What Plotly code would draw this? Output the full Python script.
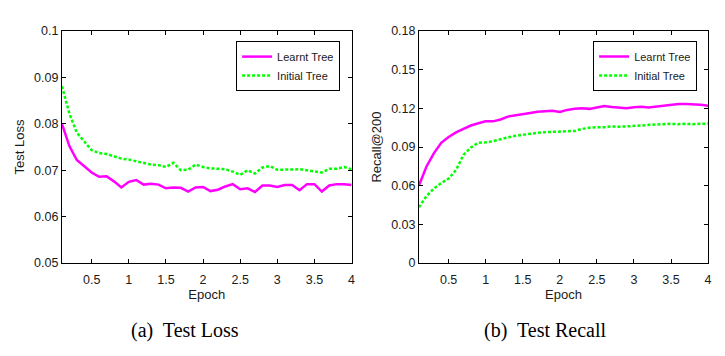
import plotly.graph_objects as go

epochs = [round(0.1 * i, 1) for i in range(1, 41)]

loss_learnt = [0.0800, 0.0752, 0.0722, 0.0708, 0.0695, 0.0686, 0.0687, 0.0676, 0.0663, 0.0675,
               0.0679, 0.0669, 0.0671, 0.0669, 0.0661, 0.0663, 0.0662, 0.0654, 0.0663, 0.0664,
               0.0655, 0.0658, 0.0665, 0.0670, 0.0659, 0.0661, 0.0653, 0.0667, 0.0667, 0.0664,
               0.0668, 0.0668, 0.0657, 0.0670, 0.0670, 0.0654, 0.0667, 0.0670, 0.0670, 0.0668]
loss_initial = [0.0881, 0.0822, 0.0781, 0.0762, 0.0743, 0.0737, 0.0735, 0.0730, 0.0725, 0.0723,
                0.0719, 0.0715, 0.0712, 0.0711, 0.0707, 0.0716, 0.0700, 0.0701, 0.0712, 0.0707,
                0.0704, 0.0703, 0.0702, 0.0697, 0.0690, 0.0700, 0.0693, 0.0706, 0.0709, 0.0701,
                0.0701, 0.0702, 0.0702, 0.0700, 0.0697, 0.0695, 0.0703, 0.0703, 0.0707, 0.0702]

recall_learnt = [0.0601, 0.0747, 0.0851, 0.0933, 0.0978, 0.1013, 0.1040, 0.1067, 0.1084, 0.1099,
                 0.1099, 0.1114, 0.1136, 0.1144, 0.1151, 0.1164, 0.1173, 0.1176, 0.1181, 0.1172,
                 0.1188, 0.1196, 0.1201, 0.1196, 0.1206, 0.1218, 0.1211, 0.1206, 0.1201, 0.1208,
                 0.1213, 0.1206, 0.1213, 0.1221, 0.1228, 0.1233, 0.1233, 0.1233, 0.1228, 0.1221]
recall_initial = [0.0432, 0.0519, 0.0578, 0.0621, 0.0655, 0.0722, 0.0839, 0.0896, 0.0933, 0.0936,
                  0.0945, 0.0963, 0.0975, 0.0987, 0.0995, 0.1005, 0.1010, 0.1015, 0.1017, 0.1023,
                  0.1022, 0.1025, 0.1040, 0.1050, 0.1054, 0.1054, 0.1060, 0.1057, 0.1060, 0.1062,
                  0.1067, 0.1072, 0.1072, 0.1077, 0.1080, 0.1077, 0.1080, 0.1077, 0.1080, 0.1082]

series_names = ["Learnt Tree", "Initial Tree"]
x_ticks = [0.5, 1, 1.5, 2, 2.5, 3, 3.5, 4]
x_ticktext = ["0.5", "1", "1.5", "2", "2.5", "3", "3.5", "4"]
loss_ticks = [0.05, 0.06, 0.07, 0.08, 0.09, 0.1]
loss_ticktext = ["0.05", "0.06", "0.07", "0.08", "0.09", "0.1"]
recall_ticks = [0, 0.03, 0.06, 0.09, 0.12, 0.15, 0.18]
recall_ticktext = ["0", "0.03", "0.06", "0.09", "0.12", "0.15", "0.18"]
captions = ["(a)  Test Loss", "(b)  Test Recall"]

MAG = "#FF00FF"
GRN = "#00FF00"
W, H = 725, 356
FONT = "Liberation Sans"

fig = go.Figure()
fig.add_trace(go.Scatter(x=epochs, y=loss_learnt, mode="lines", name=series_names[0],
                         line=dict(color=MAG, width=2.5), xaxis="x", yaxis="y", legend="legend"))
fig.add_trace(go.Scatter(x=epochs, y=loss_initial, mode="lines", name=series_names[1],
                         line=dict(color=GRN, width=2.5, dash="3px,2px"), xaxis="x", yaxis="y", legend="legend"))
fig.add_trace(go.Scatter(x=epochs, y=recall_learnt, mode="lines", name=series_names[0],
                         line=dict(color=MAG, width=2.5), xaxis="x2", yaxis="y2", legend="legend2"))
fig.add_trace(go.Scatter(x=epochs, y=recall_initial, mode="lines", name=series_names[1],
                         line=dict(color=GRN, width=2.5, dash="3px,2px"), xaxis="x2", yaxis="y2", legend="legend2"))

y0 = (H - 266.5) / H
y1 = (H - 25) / H
axcommon = dict(showline=True, linecolor="black", linewidth=1, mirror="ticks",
                ticks="inside", ticklen=4, tickcolor="black", showgrid=False, zeroline=False,
                tickfont=dict(family=FONT, size=12.5, color="#1a1a1a"))
xcommon = dict(range=[0.1, 4], tickvals=x_ticks, ticktext=x_ticktext, ticklabelstandoff=5,
               title=dict(text="Epoch", font=dict(family=FONT, size=13, color="#1a1a1a"), standoff=3))
legcommon = dict(xanchor="right", yanchor="top", bgcolor="white", bordercolor="black", borderwidth=1,
                 font=dict(family=FONT, size=11, color="#1a1a1a"), tracegroupgap=0, itemwidth=30)

fig.update_layout(
    width=W, height=H, margin=dict(l=0, r=0, t=0, b=0),
    paper_bgcolor="white", plot_bgcolor="white",
    font=dict(family=FONT, color="#1a1a1a"),
    xaxis=dict(domain=[62.3 / W, 353.5 / W], anchor="y", **xcommon, **axcommon),
    yaxis=dict(domain=[y0, y1], range=[0.05, 0.1], tickvals=loss_ticks, ticktext=loss_ticktext,
               title=dict(text="Test Loss", font=dict(family=FONT, size=13, color="#1a1a1a"), standoff=6),
               anchor="x", **axcommon),
    xaxis2=dict(domain=[421.3 / W, 712 / W], anchor="y2", **xcommon, **axcommon),
    yaxis2=dict(domain=[y0, y1], range=[0, 0.18], tickvals=recall_ticks, ticktext=recall_ticktext,
                title=dict(text="Recall@200", font=dict(family=FONT, size=13, color="#1a1a1a"), standoff=6),
                anchor="x2", **axcommon),
    legend=dict(x=342 / W, y=(H - 35.5) / H, **legcommon),
    legend2=dict(x=701 / W, y=(H - 35.5) / H, **legcommon),
)

for cx, txt in zip([186, 549], captions):
    fig.add_annotation(x=cx / W, y=(H - 337) / H, xref="paper", yref="paper",
                       text=txt, showarrow=False, xanchor="center", yanchor="middle",
                       font=dict(family="Liberation Serif", size=20, color="black"))

fig.write_html("out.html", config={"displayModeBar": False},
               post_script="document.body.style.margin='0px';")
